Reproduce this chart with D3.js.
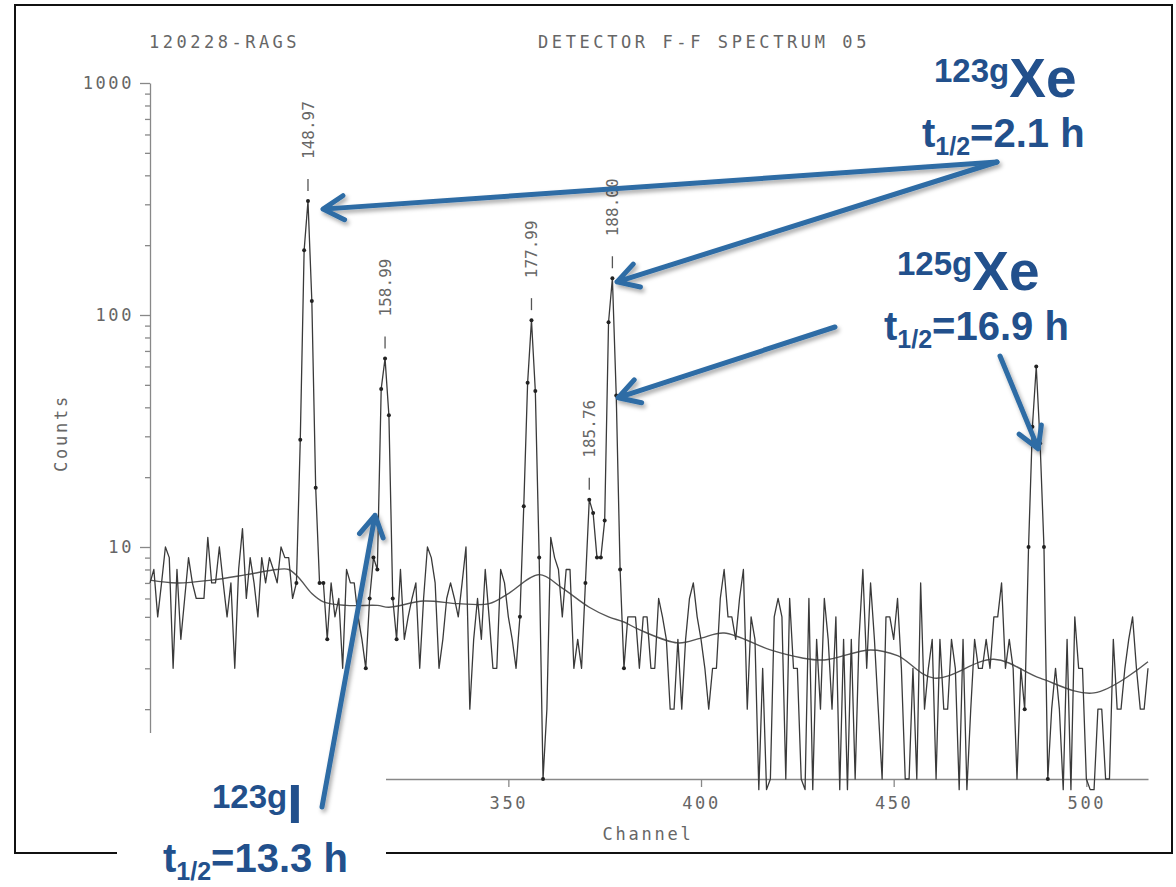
<!DOCTYPE html>
<html>
<head>
<meta charset="utf-8">
<script src="https://cdn.jsdelivr.net/npm/d3@7"></script>
<style>
  body { margin: 0; background: #fff; }
  svg { display: block; }
  .plot-text { font-family: "DejaVu Sans Mono", "Liberation Mono", monospace; fill: #666; }
  .note { font-family: "Liberation Sans", Arial, sans-serif; font-weight: bold; fill: #22508c; }
</style>
</head>
<body>
<div id="chart"></div>
<script>
// spectrum: one count per channel, starting at firstChannel
const firstChannel = 257;
const counts = [
  7, 8, 5, 7, 10, 9, 3, 8, 4, 6, 9, 7, 6, 6, 6, 11, 7, 7, 10, 7,
  5, 7, 3, 8, 12, 6, 9, 7, 5, 9, 7, 9, 8, 7, 10, 9, 9, 6, 7, 29,
  190, 310, 115, 18, 7, 7, 4, 7, 5, 6, 3, 8, 7, 7, 5, 4, 3, 6, 9, 8,
  48, 65, 37, 6, 4, 8, 4, 5, 6, 7, 3, 6, 10, 9, 7, 3, 4, 6, 7, 6,
  5, 7, 10, 2, 4, 6, 4, 8, 5, 3, 3, 8, 7, 5, 4, 3, 5, 15, 51, 95,
  47, 9, 1, 2, 11, 9, 8, 5, 8, 8, 3, 4, 3, 7, 16, 14, 9, 9, 13, 93,
  144, 45, 8, 3, 5, 5, 5, 3, 5, 5, 3, 3, 6, 5, 4, 2, 2, 4, 2, 4,
  6, 7, 5, 4, 3, 2, 3, 3, 6, 8, 5, 5, 4, 6, 8, 2, 5, 4, 0, 3,
  0, 1, 5, 6, 5, 1, 6, 3, 3, 1, 0, 6, 0, 4, 2, 6, 4, 2, 5, 0,
  4, 0, 4, 1, 4, 8, 3, 7, 4, 2, 1, 5, 5, 4, 6, 3, 1, 1, 3, 1,
  7, 2, 3, 4, 1, 4, 2, 2, 4, 3, 0, 4, 0, 2, 4, 3, 3, 4, 3, 5,
  5, 7, 3, 4, 3, 1, 3, 2, 10, 33, 60, 28, 10, 1, 2, 3, 2, 0, 4, 0,
  5, 3, 3, 1, 0, 0, 2, 2, 1, 1, 4, 2, 2, 3, 4, 5, 3, 2, 2, 3
];

// fitted background continuum
const bgChannels = [257, 264, 273, 282, 290, 293, 295.5, 299, 302, 308, 316, 319, 328, 337, 345, 350, 358, 364, 371, 376, 380, 384, 394, 400, 406, 418, 426, 432, 444, 451, 460.5, 476, 488, 502, 516];
const bgCounts = [7.2, 7.0, 7.2, 7.6, 8.0, 8.0, 7.4, 6.3, 5.8, 5.6, 5.6, 5.5, 5.85, 5.7, 5.7, 6.3, 7.6, 6.65, 5.5, 5.0, 4.75, 4.4, 3.86, 4.05, 4.26, 3.6, 3.33, 3.26, 3.6, 3.4, 2.72, 3.28, 2.72, 2.35, 3.2];

// labelled peaks (energy in keV)
const peakChannels = [298, 318, 356, 371, 377];
const peakLabels = ["148.97", "158.99", "177.99", "185.76", "188.00"];
// channel ranges drawn with point markers
const dotRanges = [[295, 303], [313, 321], [353, 359], [370, 380], [484, 490]];

const xTicks = [350, 400, 450, 500];
const yMajor = [10, 100, 1000];
const yMinor = [2, 3, 4, 5, 6, 7, 8, 9, 20, 30, 40, 50, 60, 70, 80, 90, 200, 300, 400, 500, 600, 700, 800, 900];

// arrows: start in page pixels, tip in data units (channel, counts)
const arrows = [
  {from: [997, 162], tipChannel: 301.9, tipCounts: 286},
  {from: [997, 162], tipChannel: 378.2, tipCounts: 139},
  {from: [835, 327], tipChannel: 378.5, tipCounts: 44},
  {from: [1000, 356], tipChannel: 487.5, tipCounts: 26.5},
  {from: [322, 807], tipChannel: 315.4, tipCounts: 13.7}
];

const width = 1176, height = 887;

const svg = d3.select("#chart").append("svg")
    .attr("width", width)
    .attr("height", height);

const defs = svg.append("defs");
defs.append("filter").attr("id", "shadow")
    .attr("x", "-20%").attr("y", "-20%").attr("width", "140%").attr("height", "140%")
  .append("feDropShadow")
    .attr("dx", 2).attr("dy", 3).attr("stdDeviation", 2)
    .attr("flood-color", "#000").attr("flood-opacity", 0.35);

// scales
const x = d3.scaleLinear().domain([257, 516]).range([150, 1148]);
const y = d3.scaleLog().domain([1, 1000]).range([779, 83]);

// outer frame
svg.append("rect")
    .attr("x", 15).attr("y", 5)
    .attr("width", 1157).attr("height", 848)
    .attr("fill", "none").attr("stroke", "#111").attr("stroke-width", 2);

// titles
svg.append("text").attr("class", "plot-text")
    .attr("x", 149).attr("y", 48)
    .style("font-size", "17px").style("letter-spacing", "3.5px")
    .text("120228-RAGS");
svg.append("text").attr("class", "plot-text")
    .attr("x", 538).attr("y", 48)
    .style("font-size", "17px").style("letter-spacing", "3.6px")
    .text("DETECTOR F-F SPECTRUM 05");

// y axis
function styleAxis(g) {
    g.attr("font-family", null).attr("font-size", null);
    g.selectAll("path, line").attr("stroke", "#888").attr("stroke-width", 1.3);
    g.selectAll("text").attr("class", "plot-text")
        .style("font-size", "17px").style("letter-spacing", "2.6px");
}

svg.append("g")
    .attr("transform", `translate(${x(257)},0)`)
    .call(d3.axisLeft(y).tickValues(yMajor).tickFormat(d3.format("d"))
        .tickSize(10).tickSizeOuter(0).tickPadding(6))
    .call(styleAxis);

svg.append("g")
    .attr("transform", `translate(${x(257)},0)`)
    .call(d3.axisLeft(y).tickValues(yMinor).tickFormat("").tickSize(5).tickSizeOuter(0))
    .call(styleAxis)
    .call(g => g.select(".domain").remove());

// x axis
svg.append("g")
    .attr("transform", `translate(0,${y(1)})`)
    .call(d3.axisBottom(x).tickValues(xTicks).tickSize(8).tickSizeOuter(0).tickPadding(10))
    .call(styleAxis);

// axis titles
svg.append("text").attr("class", "plot-text")
    .attr("transform", "translate(67,433) rotate(-90)")
    .attr("text-anchor", "middle")
    .style("font-size", "17px").style("letter-spacing", "2.8px")
    .text("Counts");
svg.append("text").attr("class", "plot-text")
    .attr("x", 648).attr("y", 840)
    .attr("text-anchor", "middle")
    .style("font-size", "17px").style("letter-spacing", "2.8px")
    .text("Channel");

// data
const data = counts.map((c, i) => ({ch: firstChannel + i, c: c}));
const yc = v => y(Math.max(v, 0.9));   // empty channels fall just below the axis

// background continuum
const bg = bgChannels.map((ch, i) => ({ch: ch, c: bgCounts[i]}));
svg.append("path")
    .datum(bg)
    .attr("fill", "none")
    .attr("stroke", "#555")
    .attr("stroke-width", 1.4)
    .attr("d", d3.line().x(d => x(d.ch)).y(d => y(d.c)).curve(d3.curveCatmullRom));

// spectrum
svg.append("path")
    .datum(data)
    .attr("fill", "none")
    .attr("stroke", "#3a3a3a")
    .attr("stroke-width", 1.3)
    .attr("stroke-linejoin", "round")
    .attr("d", d3.line().x(d => x(d.ch)).y(d => yc(d.c)));

const dotted = data.filter(d => dotRanges.some(r => d.ch >= r[0] && d.ch <= r[1]));
svg.append("g").selectAll("circle")
    .data(dotted)
    .join("circle")
    .attr("cx", d => x(d.ch))
    .attr("cy", d => yc(d.c))
    .attr("r", 2)
    .attr("fill", "#222");

// peak markers and energy labels
const peaks = peakChannels.map((ch, i) => ({ch: ch, c: counts[ch - firstChannel], label: peakLabels[i]}));
const pk = svg.append("g");
pk.selectAll("line")
    .data(peaks)
    .join("line")
    .attr("x1", d => x(d.ch)).attr("x2", d => x(d.ch))
    .attr("y1", d => y(d.c) - 22).attr("y2", d => y(d.c) - 10)
    .attr("stroke", "#555").attr("stroke-width", 1.3);
pk.selectAll("text")
    .data(peaks)
    .join("text")
    .attr("class", "plot-text")
    .attr("transform", d => `translate(${x(d.ch)},${y(d.c) - 42}) rotate(-90)`)
    .attr("dy", "0.35em")
    .style("font-size", "16px")
    .text(d => d.label);

// white panel behind the 123gI note (hides the lower-left corner of the plot)
svg.append("rect")
    .attr("x", 117).attr("y", 733)
    .attr("width", 269).attr("height", 160)
    .attr("fill", "#fff");

// arrows
const ag = svg.append("g").attr("filter", "url(#shadow)");
arrows.forEach(a => {
    const tx = x(a.tipChannel), ty = y(a.tipCounts);
    const [fx, fy] = a.from;
    const ang = Math.atan2(fy - ty, fx - tx);
    const len = 24, spread = Math.PI / 6;
    const p1 = [tx + len * Math.cos(ang - spread), ty + len * Math.sin(ang - spread)];
    const p2 = [tx + len * Math.cos(ang + spread), ty + len * Math.sin(ang + spread)];
    ag.append("path")
        .attr("d", `M${fx},${fy}L${tx},${ty}M${p1[0]},${p1[1]}L${tx},${ty}L${p2[0]},${p2[1]}`)
        .attr("fill", "none")
        .attr("stroke", "#2e6ca5")
        .attr("stroke-width", 5)
        .attr("stroke-linecap", "round")
        .attr("stroke-linejoin", "round");
});

// isotope notes
function isotope(xp, yp, mass, sym) {
    const t = svg.append("text").attr("class", "note").attr("x", xp).attr("y", yp);
    t.append("tspan").style("font-size", "33px").attr("dy", -15).text(mass);
    t.append("tspan").style("font-size", "55px").attr("dy", 15).text(sym);
}
function halfLife(xp, yp, val) {
    const t = svg.append("text").attr("class", "note").attr("x", xp).attr("y", yp)
        .style("font-size", "40px");
    t.append("tspan").text("t");
    t.append("tspan").style("font-size", "25px").attr("dy", 8).text("1/2");
    t.append("tspan").attr("dy", -8).text("=" + val);
}

isotope(934, 97, "123g", "Xe");
halfLife(922, 147, "2.1 h");
isotope(897, 290, "125g", "Xe");
halfLife(884, 340, "16.9 h");
isotope(212, 823, "123g", "I");
halfLife(163, 872, "13.3 h");
</script>
</body>
</html>
